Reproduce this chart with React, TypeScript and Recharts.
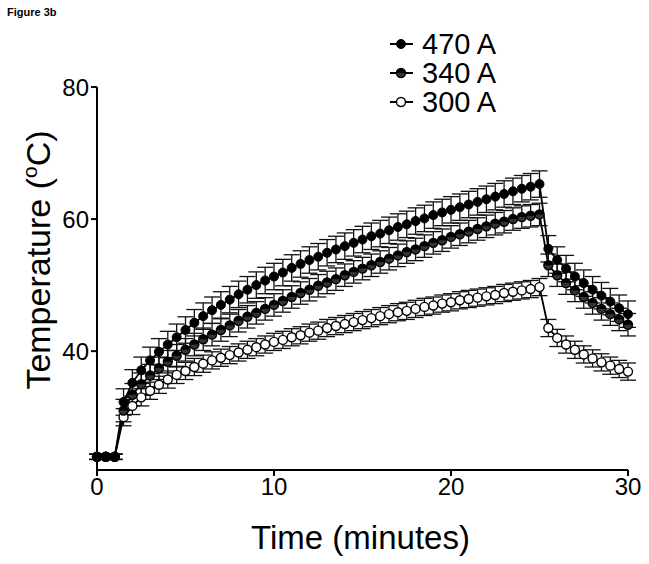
import React from 'react';
import { LineChart, Line, XAxis, YAxis, ErrorBar, Label } from 'recharts';

const times = [0,0.5,1,1.5,2,2.5,3,3.5,4,4.5,5,5.5,6,6.5,7,7.5,8,8.5,9,9.5,10,10.5,11,11.5,12,12.5,13,13.5,14,14.5,15,15.5,16,16.5,17,17.5,18,18.5,19,19.5,20,20.5,21,21.5,22,22.5,23,23.5,24,24.5,25,25.5,26,26.5,27,27.5,28,28.5,29,29.5,30];

const v470 = [24,24,24,32.3,35.2,37.1,38.6,39.9,41.0,42.1,43.2,44.3,45.3,46.2,47.0,47.8,48.6,49.3,50.0,50.7,51.3,51.9,52.6,53.2,53.8,54.3,54.9,55.4,55.9,56.4,56.9,57.4,57.8,58.3,58.8,59.2,59.7,60.1,60.6,61.0,61.4,61.8,62.2,62.6,63.0,63.4,63.8,64.2,64.6,64.9,65.3,55.5,53.8,52.5,51.3,50.3,49.3,48.4,47.5,46.5,45.6];
const v340 = [24,24,24,31.0,33.4,35.0,36.3,37.4,38.4,39.3,40.2,41.0,41.8,42.5,43.2,43.9,44.6,45.2,45.8,46.4,47.0,47.6,48.2,48.8,49.3,49.9,50.4,50.9,51.5,52.0,52.5,53.0,53.5,54.0,54.5,55.0,55.4,55.9,56.4,56.8,57.3,57.7,58.1,58.5,58.9,59.3,59.6,60.0,60.3,60.5,60.7,53.0,51.5,50.3,49.2,48.2,47.3,46.4,45.6,44.8,44.0];
const v300 = [24,24,24,30.0,31.7,33.0,34.0,34.9,35.7,36.4,37.0,37.6,38.1,38.6,39.0,39.4,39.8,40.2,40.6,41.0,41.4,41.7,42.1,42.4,42.8,43.1,43.5,43.8,44.1,44.4,44.7,45.0,45.3,45.6,45.9,46.1,46.4,46.7,46.9,47.2,47.4,47.7,47.9,48.1,48.3,48.5,48.8,49.0,49.2,49.4,49.7,43.5,42.0,41.0,40.2,39.5,38.9,38.3,37.8,37.3,36.9];

const err470 = 2.0;
const err340 = 1.7;
const err300 = 1.3;
const baseErr = 0.4;

const seriesNames = ['470 A', '340 A', '300 A'];
const xTicks = [0, 10, 20, 30];
const yTicks = [40, 60, 80];

const data = times.map((t, i) => ({
  t,
  a470: v470[i],
  a340: v340[i],
  a300: v300[i],
  e470: i < 3 ? baseErr : err470,
  e340: i < 3 ? baseErr : err340,
  e300: i < 3 ? baseErr : err300,
}));

const FONT = '"Liberation Sans", Arial, Helvetica, sans-serif';

const FilledDot = (props: any) => {
  const { cx, cy, index } = props;
  return <circle key={`f${index}`} cx={cx} cy={cy} r={4.5} fill="#000" stroke="#000" strokeWidth={1} />;
};
const HalfDot = (props: any) => {
  const { cx, cy, index } = props;
  const r = 4.5;
  return (
    <g key={`h${index}`}>
      <circle cx={cx} cy={cy} r={r} fill="#333" stroke="#000" strokeWidth={1.4} />
      <path d={`M${cx - r},${cy} A${r},${r} 0 0,1 ${cx + r},${cy} Z`} fill="#000" />
    </g>
  );
};
const OpenDot = (props: any) => {
  const { cx, cy, index } = props;
  return <circle key={`o${index}`} cx={cx} cy={cy} r={4.5} fill="#fff" stroke="#000" strokeWidth={1.4} />;
};

const XTitle = (props: any) => {
  const vb = props.viewBox;
  return (
    <text x={vb.x + vb.width / 2 - 2} y={549} textAnchor="middle" fontFamily={FONT} fontSize={33} fill="#000">
      Time (minutes)
    </text>
  );
};
const YTitle = () => {
  const x = 50;
  const y = 260;
  return (
    <text x={x} y={y} transform={`rotate(-90, ${x}, ${y})`} textAnchor="middle" fontFamily={FONT} fontSize={34} fill="#000">
      Temperature (<tspan fontSize={21} dy={-13}>o</tspan><tspan dy={13}>C)</tspan>
    </text>
  );
};

const legendDots = [FilledDot, HalfDot, OpenDot];

export default function App() {
  return (
    <div style={{ position: 'absolute', left: 0, top: 0, width: 649, height: 564, background: '#fff' }}>
      <div style={{ position: 'absolute', left: 7, top: 6, fontFamily: FONT, fontWeight: 'bold', fontSize: 11 }}>Figure 3b</div>
      <LineChart width={649} height={564} data={data} margin={{ top: 87, right: 21, bottom: 24, left: 0 }}>
        <XAxis
          dataKey="t"
          type="number"
          domain={[0, 30]}
          ticks={xTicks}
          height={70}
          stroke="#000"
          strokeWidth={2}
          tickSize={6}
          tick={{ fill: '#000', fontSize: 24, fontFamily: FONT }}
        >
          <Label content={<XTitle />} />
        </XAxis>
        <YAxis
          type="number"
          domain={[22, 80]}
          ticks={yTicks}
          width={97}
          stroke="#000"
          strokeWidth={2}
          tickSize={6}
          tick={{ fill: '#000', fontSize: 24, fontFamily: FONT }}
        >
          <Label content={<YTitle />} />
        </YAxis>
        <Line dataKey="a300" stroke="#000" strokeWidth={1.8} dot={OpenDot} isAnimationActive={false}>
          <ErrorBar dataKey="e300" direction="y" width={8} stroke="#111" strokeWidth={1.3} />
        </Line>
        <Line dataKey="a340" stroke="#000" strokeWidth={1.8} dot={HalfDot} isAnimationActive={false}>
          <ErrorBar dataKey="e340" direction="y" width={8} stroke="#111" strokeWidth={1.3} />
        </Line>
        <Line dataKey="a470" stroke="#000" strokeWidth={1.8} dot={FilledDot} isAnimationActive={false}>
          <ErrorBar dataKey="e470" direction="y" width={8} stroke="#111" strokeWidth={1.3} />
        </Line>
      </LineChart>
      <svg style={{ position: 'absolute', left: 380, top: 25 }} width={150} height={95}>
        {seriesNames.map((name, i) => {
          const cy = 19 + i * 29;
          const Dot = legendDots[i];
          return (
            <g key={name}>
              <line x1={10} x2={33} y1={cy} y2={cy} stroke="#000" strokeWidth={2} />
              <Dot cx={21} cy={cy} index={i} />
              <text x={42} y={cy + 10} fontFamily={FONT} fontSize={29} fill="#000">{name}</text>
            </g>
          );
        })}
      </svg>
    </div>
  );
}
